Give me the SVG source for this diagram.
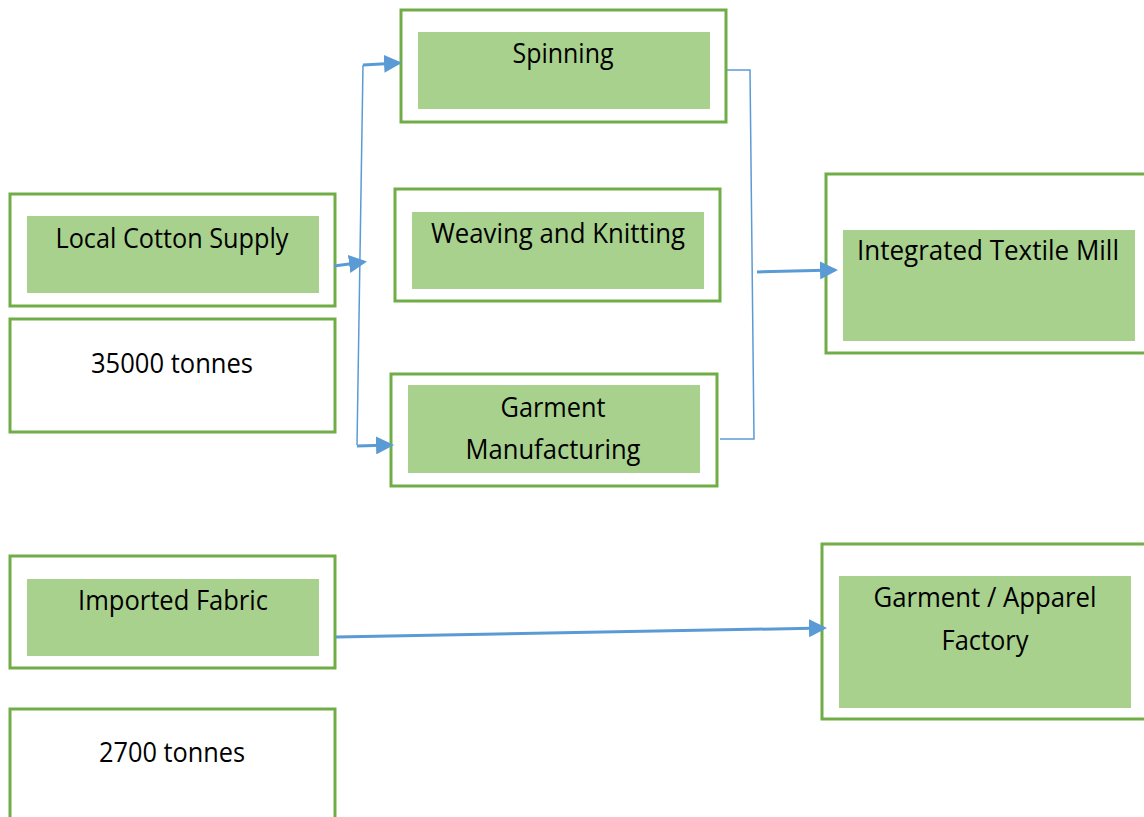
<svg xmlns="http://www.w3.org/2000/svg" width="1144" height="817" viewBox="0 0 1144 817">
<defs>
<style>
.outer{fill:#fff;stroke:#70AD47;stroke-width:3}
.inner{fill:#A9D18E;stroke:none}
.t{font-family:"Open Sans","Liberation Sans",sans-serif;font-size:27px;fill:#000;text-anchor:middle}
.c{fill:none;stroke:#5B9BD5;stroke-width:1.5}
.ca{fill:none;stroke:#5B9BD5;stroke-width:3}
</style>
<marker id="ah" markerWidth="6" markerHeight="6" refX="5" refY="3" orient="auto" markerUnits="strokeWidth"><path d="M0,0 L6,3 L0,6 z" fill="#5B9BD5"/></marker>
</defs>
<rect width="1144" height="817" fill="#fff"/>
<g id="local-cotton">
<rect class="outer" x="10" y="194" width="325" height="112"/>
<rect class="inner" x="27" y="216" width="292" height="77"/>
<text class="t" x="172" y="248" textLength="233" lengthAdjust="spacingAndGlyphs">Local Cotton Supply</text>
</g>
<g id="cotton-qty">
<rect class="outer" x="10" y="319" width="325" height="113"/>
<text class="t" x="172" y="373" textLength="162" lengthAdjust="spacingAndGlyphs">35000 tonnes</text>
</g>
<g id="spinning">
<rect class="outer" x="401" y="10" width="325" height="112"/>
<rect class="inner" x="418" y="32" width="292" height="77"/>
<text class="t" x="563" y="63" textLength="101" lengthAdjust="spacingAndGlyphs">Spinning</text>
</g>
<g id="weaving">
<rect class="outer" x="395" y="189" width="325" height="112"/>
<rect class="inner" x="412" y="212" width="292" height="77"/>
<text class="t" x="558" y="243" textLength="254" lengthAdjust="spacingAndGlyphs">Weaving and Knitting</text>
</g>
<g id="garment-mfg">
<rect class="outer" x="391" y="374" width="326" height="112"/>
<rect class="inner" x="408" y="385" width="292" height="88"/>
<text class="t" x="553" y="417" textLength="105" lengthAdjust="spacingAndGlyphs">Garment</text>
<text class="t" x="553" y="459" textLength="175" lengthAdjust="spacingAndGlyphs">Manufacturing</text>
</g>
<g id="textile-mill">
<rect class="outer" x="826" y="174" width="330" height="179"/>
<rect class="inner" x="843" y="230" width="292" height="111"/>
<text class="t" x="988" y="260" textLength="262" lengthAdjust="spacingAndGlyphs">Integrated Textile Mill</text>
</g>
<g id="imported-fabric">
<rect class="outer" x="10" y="556" width="325" height="112"/>
<rect class="inner" x="27" y="579" width="292" height="77"/>
<text class="t" x="173" y="610" textLength="190" lengthAdjust="spacingAndGlyphs">Imported Fabric</text>
</g>
<g id="fabric-qty">
<rect class="outer" x="10" y="709" width="325" height="120"/>
<text class="t" x="172" y="762" textLength="146" lengthAdjust="spacingAndGlyphs">2700 tonnes</text>
</g>
<g id="apparel-factory">
<rect class="outer" x="822" y="544" width="334" height="175"/>
<rect class="inner" x="839" y="576" width="292" height="132"/>
<text class="t" x="985" y="607" textLength="223" lengthAdjust="spacingAndGlyphs">Garment / Apparel</text>
<text class="t" x="985" y="650" textLength="87" lengthAdjust="spacingAndGlyphs">Factory</text>
</g>
<g id="connectors">
<line class="ca" x1="334" y1="266" x2="364" y2="262" marker-end="url(#ah)"/>
<polyline class="c" points="363,65 357,445"/>
<line class="ca" x1="363" y1="65" x2="399" y2="63" marker-end="url(#ah)"/>
<line class="ca" x1="357" y1="446" x2="391" y2="445" marker-end="url(#ah)"/>
<polyline class="c" points="727,70 750,70 754,439 720,439"/>
<line class="ca" x1="757" y1="272" x2="835" y2="270" marker-end="url(#ah)"/>
<line class="ca" x1="336" y1="637" x2="824" y2="628" marker-end="url(#ah)"/>
</g>
</svg>
